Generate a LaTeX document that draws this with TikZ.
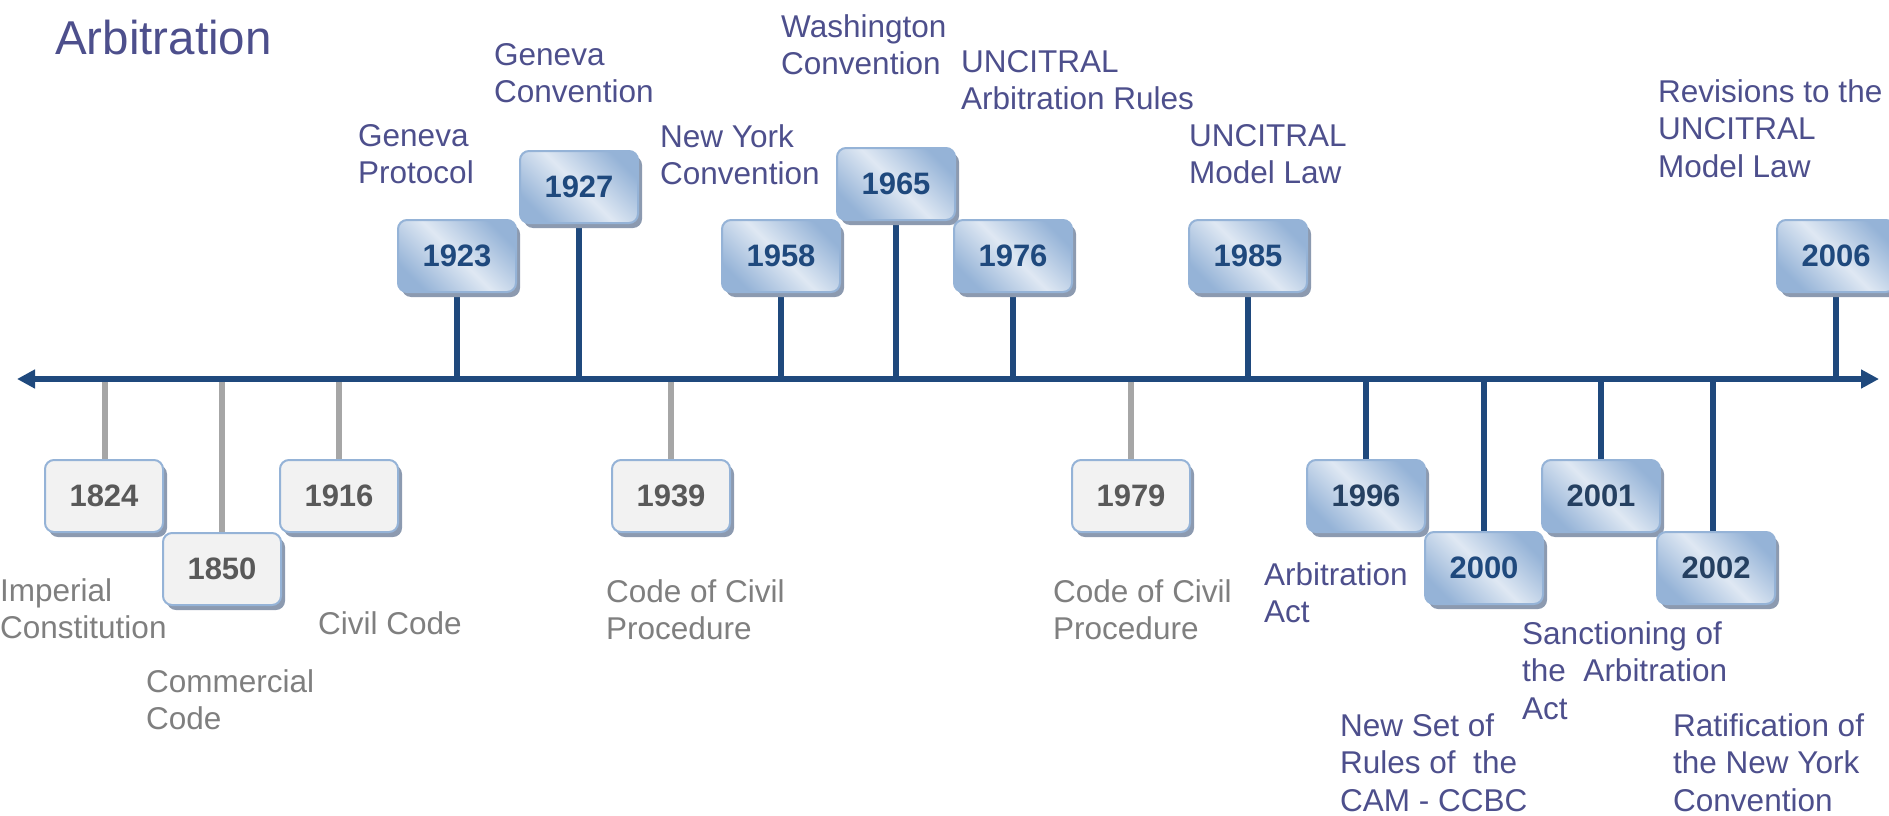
\documentclass[tikz,border=0pt]{standalone}
\usepackage{fontspec}
\setmainfont{Liberation Sans}
\usetikzlibrary{arrows.meta,shadows,backgrounds}
\definecolor{axisblue}{HTML}{1F497D}
\definecolor{stemgray}{HTML}{A6A6A6}
\definecolor{bxdark}{HTML}{95B3D7}
\definecolor{bxlight}{HTML}{DFE8F3}
\definecolor{bxborder}{HTML}{95B3D7}
\definecolor{shadowc}{HTML}{8C9AB0}
\definecolor{graybox}{HTML}{F2F2F2}
\definecolor{yrblue}{HTML}{1F497D}
\definecolor{yrdark}{HTML}{254061}
\definecolor{yrgray}{HTML}{595959}
\definecolor{lblblue}{HTML}{4D4F8C}
\definecolor{lblgray}{HTML}{7F7F7F}
\pgfdeclarehorizontalshading{yrshade}{100bp}{color(0bp)=(bxdark); color(25bp)=(bxdark); color(50bp)=(bxlight); color(75bp)=(bxdark); color(100bp)=(bxdark)}
\tikzset{
  yrbase/.style={rounded corners=9pt, minimum width=118pt, minimum height=72pt, inner sep=0pt,
    draw=bxborder, line width=2pt, font=\fontsize{31}{37}\selectfont\bfseries,
    drop shadow={shadow xshift=4pt, shadow yshift=-5pt, fill=shadowc, opacity=1}},
  bluebox/.style={yrbase, shade, shading=yrshade, shading angle=45, text=yrblue},
  darkbox/.style={bluebox, text=yrdark},
  greybox/.style={yrbase, fill=graybox, text=yrgray},
  bluestem/.style={draw=axisblue, line width=5.5pt},
  greystem/.style={draw=stemgray, line width=5.5pt},
  bluelbl/.style={anchor=north west, inner sep=0pt, align=left, text=lblblue, font=\fontsize{31.5}{37.5}\selectfont},
  greylbl/.style={bluelbl, text=lblgray},
}
\begin{document}
\begin{tikzpicture}[x=1pt,y=-1pt]
\useasboundingbox (0,0) rectangle (1889,816);
% title
\node[anchor=base west, inner sep=0pt, text=lblblue, font=\fontsize{47.5}{56}\selectfont] (title) at (55,55) {Arbitration};
% axis
\coordinate (L) at (17,379);
\coordinate (R) at (1879,379);
\foreach \n/\x in {1824/105,1850/222,1916/339,1923/457,1927/579,1939/671,1958/781,1965/896,1976/1013,1979/1131,1985/1248,1996/1366,2000/1484,2001/1601,2002/1713,2006/1836}
  {\coordinate (t\n) at (\x,379);}
% upper boxes
\node[bluebox] (b1923) at (457,256) {1923};
\node[bluebox] (b1927) at (579,187) {1927};
\node[bluebox] (b1958) at (781,256) {1958};
\node[bluebox] (b1965) at (896,184) {1965};
\node[bluebox] (b1976) at (1013,256) {1976};
\node[bluebox] (b1985) at (1248,256) {1985};
\node[bluebox] (b2006) at (1836,256) {2006};
% lower boxes
\node[greybox] (b1824) at (104,496) {1824};
\node[greybox] (b1850) at (222,569) {1850};
\node[greybox] (b1916) at (339,496) {1916};
\node[greybox] (b1939) at (671,496) {1939};
\node[greybox] (b1979) at (1131,496) {1979};
\node[darkbox] (b1996) at (1366,496) {1996};
\node[bluebox] (b2000) at (1484,568) {2000};
\node[darkbox] (b2001) at (1601,496) {2001};
\node[darkbox] (b2002) at (1716,568) {2002};
% stems
\begin{scope}[on background layer]
  \foreach \n in {1923,1927,1958,1965,1976,1985,2006}
    {\draw[bluestem] (t\n) -- (t\n |- b\n.south);}
  \foreach \n in {1996,2000,2001,2002}
    {\draw[bluestem] (t\n) -- (t\n |- b\n.north);}
  \foreach \n in {1824,1850,1916,1939,1979}
    {\draw[greystem] (t\n) -- (t\n |- b\n.north);}
\end{scope}
\draw[axisblue, line width=6pt, {Triangle[length=18pt,width=18pt]}-{Triangle[length=18pt,width=18pt]}] (L) -- (R);
% labels
\node[bluelbl] (lGP) at (358,124) {Geneva\\Protocol};
\node[bluelbl] (lGC) at (494,43) {Geneva\\Convention};
\node[bluelbl] (lNY) at (660,124) {New York\\Convention};
\node[bluelbl] (lWC) at (781,14) {Washington\\Convention};
\node[bluelbl] (lUR) at (961,50) {UNCITRAL\\Arbitration Rules};
\node[bluelbl] (lUM) at (1189,124) {UNCITRAL\\Model Law};
\node[bluelbl] (lRev) at (1658,79) {Revisions to the\\UNCITRAL\\Model Law};
\node[greylbl] (lIC) at (0,578) {Imperial\\Constitution};
\node[greylbl] (lCC) at (146,669) {Commercial\\Code};
\node[greylbl] (lCv) at (318,611) {Civil Code};
\node[greylbl] (lCP1) at (606,579) {Code of Civil\\Procedure};
\node[greylbl] (lCP2) at (1053,579) {Code of Civil\\Procedure};
\node[bluelbl] (lAA) at (1264,562) {Arbitration\\Act};
\node[bluelbl] (lNS) at (1340,713) {New Set of\\Rules of \ the\\CAM - CCBC};
\node[bluelbl] (lSA) at (1522,621) {Sanctioning of\\the \ Arbitration\\Act};
\node[bluelbl] (lRN) at (1673,713) {Ratification of\\the New York\\Convention};
\end{tikzpicture}
\end{document}
